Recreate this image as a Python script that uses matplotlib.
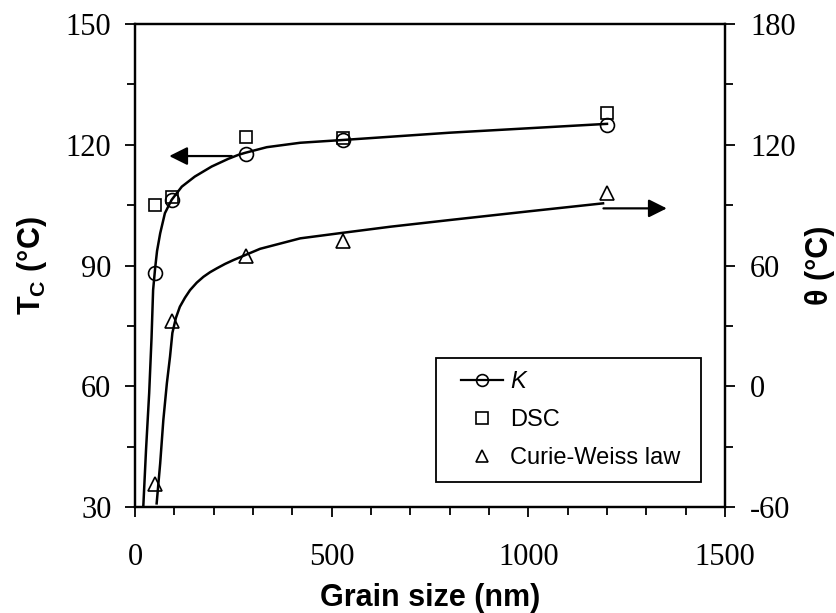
#!/usr/bin/env python3
# Curie temperature and Curie-Weiss temperature versus grain size

import matplotlib
matplotlib.use('Agg')
import matplotlib.pyplot as plt
from matplotlib.ticker import MultipleLocator
from matplotlib.lines import Line2D
from matplotlib.patches import Rectangle

plt.rcParams['font.family'] = 'Liberation Serif'
plt.rcParams['axes.unicode_minus'] = False
plt.rcParams['mathtext.fontset'] = 'custom'
plt.rcParams['mathtext.rm'] = 'Liberation Sans'
plt.rcParams['mathtext.it'] = 'Liberation Sans:italic'
plt.rcParams['mathtext.bf'] = 'Liberation Sans:bold'

# Measured points
grain_size = [50, 95, 282, 530, 1200]
tc_k = [88.1, 106.3, 117.8, 121.1, 125.0]          # from permittivity peak
tc_dsc = [105.0, 107.0, 122.0, 121.8, 128.0]       # from DSC
theta_cw = [-48.5, 32.5, 64.8, 72.0, 96.0]         # Curie-Weiss temperature

# Fitted curve for Tc (left axis)
fit_k_x = [21, 28, 36, 42, 46, 51, 56, 64, 76, 93, 119, 152, 195, 237, 263,
           280, 335, 420, 530, 650, 800, 1000, 1200]
fit_k_y = [30.0, 44.2, 58.3, 72.0, 83.9, 89.2, 93.6, 98.0, 103.0, 106.3, 109.6,
           112.1, 114.6, 116.5, 117.5, 118.0, 119.4, 120.5, 121.2, 122.0, 123.0,
           124.1, 125.2]

# Fitted curve for theta (right axis)
fit_cw_x = [55, 64, 72, 81, 89, 95, 104, 114, 127, 140, 157, 174, 191, 208,
            229, 250, 284, 318, 420, 530, 650, 800, 1000, 1190]
fit_cw_y = [-58.2, -38.3, -16.8, 1.5, 14.7, 26.5, 34.0, 39.5, 44.0, 47.8, 51.5,
            54.4, 56.7, 58.6, 60.8, 62.7, 65.5, 68.3, 73.5, 76.3, 79.3, 82.6,
            86.9, 90.9]

fig = plt.figure(figsize=(8.36, 6.13), dpi=100)
ax = fig.add_axes([0.1615, 0.1729, 0.7057, 0.7879])
ax2 = ax.twinx()

marker_kw = dict(markerfacecolor='none', markeredgecolor='black',
                 markeredgewidth=1.2, linestyle='none')

ax.plot(fit_k_x, fit_k_y, color='black', linewidth=1.8, zorder=2)
ax.plot(grain_size, tc_k, marker='o', markersize=10, zorder=3, **marker_kw)
ax.plot(grain_size, tc_dsc, marker='s', markersize=9, zorder=3, **marker_kw)

ax2.plot(fit_cw_x, fit_cw_y, color='black', linewidth=1.8, zorder=2)
ax2.plot(grain_size, theta_cw, marker='^', markersize=9.5, zorder=3, **marker_kw)

# Arrows pointing to the relevant axis
arrow_kw = dict(arrowstyle='-|>,head_length=1.1,head_width=0.55',
                color='black', linewidth=1.6, shrinkA=0, shrinkB=0,
                mutation_scale=10)
ax.annotate('', xy=(87, 117.2), xytext=(246, 117.2), arrowprops=arrow_kw)
ax2.annotate('', xy=(1352, 88.4), xytext=(1191, 88.4), arrowprops=arrow_kw)

ax.set_xlim(0, 1500)
ax.set_ylim(30, 150)
ax2.set_ylim(-60, 180)

ax.xaxis.set_major_locator(MultipleLocator(500))
ax.xaxis.set_minor_locator(MultipleLocator(100))
ax.yaxis.set_major_locator(MultipleLocator(30))
ax.yaxis.set_minor_locator(MultipleLocator(15))
ax2.yaxis.set_major_locator(MultipleLocator(60))
ax2.yaxis.set_minor_locator(MultipleLocator(30))

for a in (ax, ax2):
    for s in a.spines.values():
        s.set_linewidth(1.6)
    a.tick_params(which='major', direction='out', length=7, width=1.3,
                  labelsize=22)
    a.tick_params(which='minor', direction='out', length=5.5, width=1.3)
ax.tick_params(axis='x', which='major', pad=19)
ax.tick_params(axis='y', which='major', pad=10)
ax2.tick_params(axis='y', which='major', pad=11)

ax.set_xlabel('Grain size (nm)', family='Liberation Sans', fontweight='bold',
              fontsize=22)
ax.xaxis.set_label_coords(0.5, -0.157)
ax.set_ylabel(r'T$_\mathbf{C}$ (°C)', family='Liberation Sans',
              fontweight='bold', fontsize=22)
ax.yaxis.set_label_coords(-0.145, 0.5)
ax2.set_ylabel('θ (°C)', family='Liberation Sans', fontweight='bold',
               fontsize=22)
ax2.yaxis.set_label_coords(1.135, 0.5)

# Legend: entries without frame, box drawn separately for wider side margins
handles = [
    Line2D([], [], color='black', linewidth=1.6, marker='o', markersize=8.5,
           markerfacecolor='none', markeredgecolor='black', markeredgewidth=1.2),
    Line2D([], [], marker='s', markersize=8, **marker_kw),
    Line2D([], [], marker='^', markersize=8, **marker_kw),
]
labels = [r'$\it{K}$', 'DSC', 'Curie-Weiss law']
ax2.legend(handles, labels, loc='center left',
           bbox_to_anchor=(0.552, 0.180), borderaxespad=0, borderpad=0,
           prop={'family': 'Liberation Sans', 'size': 17},
           frameon=False, handlelength=1.8, handletextpad=0.3,
           labelspacing=0.68)
ax2.add_patch(Rectangle((0.511, 0.052), 0.449, 0.256, transform=ax2.transAxes,
                        facecolor='white', edgecolor='black', linewidth=1.3,
                        zorder=4))

fig.savefig('out.png', dpi=100)
